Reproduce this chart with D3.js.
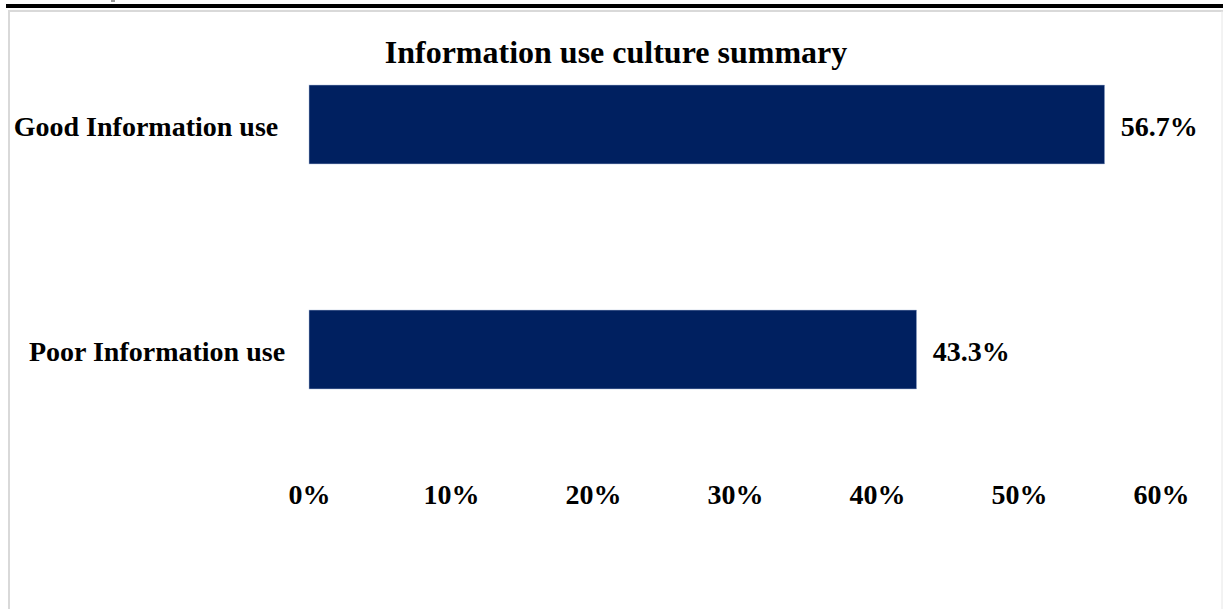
<!DOCTYPE html>
<html>
<head>
<meta charset="utf-8">
<script src="https://cdn.jsdelivr.net/npm/d3@7"></script>
<style>
  html, body { margin: 0; padding: 0; background: #fff; }
  svg { display: block; }
  text { font-family: "Liberation Serif", "Times New Roman", serif; font-weight: bold; fill: #000; }
</style>
</head>
<body>
<script>
// data
const categories = ["Good Information use", "Poor Information use"];
const values = [56.7, 43.3];
const tickValues = [0, 10, 20, 30, 40, 50, 60];
const chartTitle = "Information use culture summary";

const width = 1223, height = 609;
const fontSize = "28px";

const svg = d3.select("body").append("svg")
  .attr("width", width)
  .attr("height", height);

// page frame: thick rule on top, grey box round the chart
svg.append("rect").attr("x", 6).attr("y", 4).attr("width", width - 6).attr("height", 4).attr("fill", "#000");
svg.append("line").attr("x1", 8).attr("x2", width).attr("y1", 11).attr("y2", 11)
  .attr("stroke", "#d9d9d9").attr("stroke-width", 2);
svg.append("line").attr("x1", 9).attr("x2", 9).attr("y1", 11).attr("y2", height)
  .attr("stroke", "#d9d9d9").attr("stroke-width", 2);
svg.append("line").attr("x1", 1222).attr("x2", 1222).attr("y1", 11).attr("y2", height)
  .attr("stroke", "#e6e6e6").attr("stroke-width", 1);
svg.append("rect").attr("x", 111).attr("y", 0).attr("width", 4).attr("height", 2).attr("fill", "#999");

// scales
const x = d3.scaleLinear().domain([0, 60]).range([309, 1151]);
// excel puts the axis labels a touch wider than the bars
const xAxisScale = x.copy().range([309, 1161]);
const y = d3.scaleBand().domain(categories).range([17.5, 456.5]).paddingInner(0.649).paddingOuter(0.3);

// title
svg.append("text")
  .attr("x", 616).attr("y", 63)
  .attr("text-anchor", "middle")
  .style("font-size", "32px")
  .text(chartTitle);

// bars
svg.selectAll(".bar").data(values).join("rect")
  .attr("class", "bar")
  .attr("x", x(0))
  .attr("y", (d, i) => y(categories[i]))
  .attr("width", d => x(d) - x(0))
  .attr("height", y.bandwidth())
  .attr("fill", "#002060")
  .attr("stroke", "#b4c3de")
  .attr("stroke-width", 0.5);

// category labels (text boxes sit a little off each other in the original)
const labelCenters = [146, 157];
svg.selectAll(".cat").data(categories).join("text")
  .attr("class", "cat")
  .attr("x", (d, i) => labelCenters[i])
  .attr("y", d => y(d) + y.bandwidth() / 2)
  .attr("dy", "0.42em")
  .attr("text-anchor", "middle")
  .style("font-size", fontSize)
  .text(d => d);

// value labels
svg.selectAll(".val").data(values).join("text")
  .attr("class", "val")
  .attr("x", d => x(d) + 16)
  .attr("y", (d, i) => y(categories[i]) + y.bandwidth() / 2)
  .attr("dy", "0.42em")
  .style("font-size", fontSize)
  .text(d => d.toFixed(1) + "%");

// x axis, no line and no ticks, labels only
const axis = svg.append("g")
  .attr("transform", "translate(0,484)")
  .call(d3.axisBottom(xAxisScale).tickValues(tickValues).tickFormat(d => d + "%").tickSize(0).tickPadding(0));
axis.select(".domain").remove();
axis.selectAll("text")
  .attr("dy", "0.71em")
  .style("font-size", fontSize)
  .style("font-family", "'Liberation Serif', 'Times New Roman', serif")
  .style("font-weight", "bold");
</script>
</body>
</html>
